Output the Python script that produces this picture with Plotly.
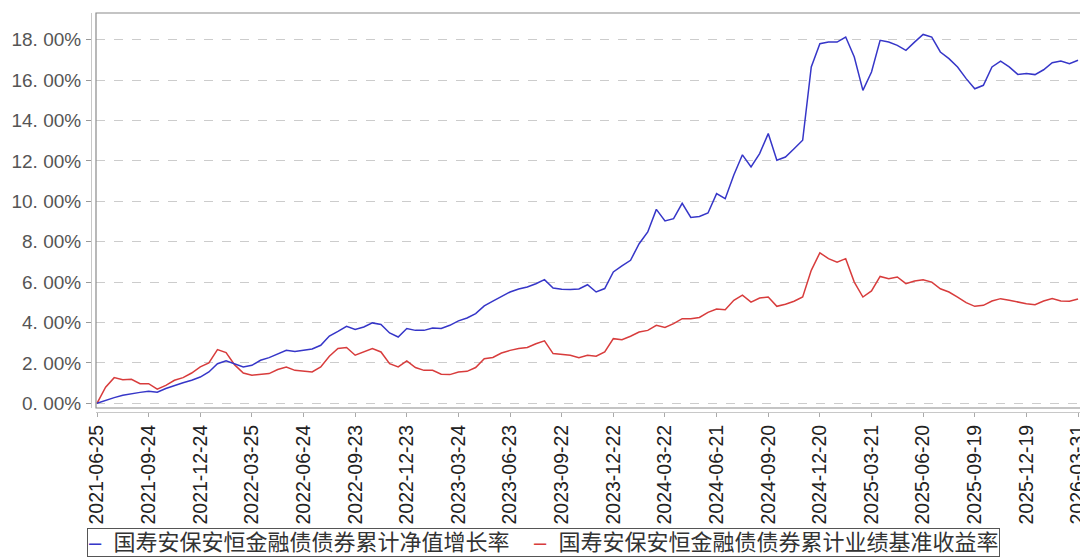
import plotly.graph_objects as go

# ---------------- data ----------------
dates = [
    "2021-06-25", "2021-07-09", "2021-07-23", "2021-08-13", "2021-08-27", "2021-09-10",
    "2021-09-24", "2021-10-08", "2021-10-22", "2021-11-12", "2021-11-26", "2021-12-10",
    "2021-12-24", "2022-01-07", "2022-01-21", "2022-02-11", "2022-02-25", "2022-03-11",
    "2022-03-25", "2022-04-08", "2022-04-22", "2022-05-13", "2022-05-27", "2022-06-10",
    "2022-06-24", "2022-07-08", "2022-07-22", "2022-08-12", "2022-08-26", "2022-09-09",
    "2022-09-23", "2022-10-10", "2022-10-21", "2022-11-11", "2022-11-25", "2022-12-09",
    "2022-12-23", "2023-01-06", "2023-01-20", "2023-02-10", "2023-02-24", "2023-03-10",
    "2023-03-24", "2023-04-07", "2023-04-21", "2023-05-12", "2023-05-26", "2023-06-09",
    "2023-06-23", "2023-07-07", "2023-07-21", "2023-08-11", "2023-08-25", "2023-09-08",
    "2023-09-22", "2023-10-09", "2023-10-20", "2023-11-10", "2023-11-24", "2023-12-08",
    "2023-12-22", "2024-01-05", "2024-01-19", "2024-02-08", "2024-02-23", "2024-03-08",
    "2024-03-22", "2024-04-08", "2024-04-19", "2024-05-10", "2024-05-24", "2024-06-07",
    "2024-06-21", "2024-07-05", "2024-07-19", "2024-08-09", "2024-08-23", "2024-09-06",
    "2024-09-20", "2024-10-08", "2024-10-18", "2024-11-08", "2024-11-22", "2024-12-06",
    "2024-12-20", "2025-01-03", "2025-01-17", "2025-02-07", "2025-02-21", "2025-03-07",
    "2025-03-21", "2025-04-07", "2025-04-18", "2025-05-09", "2025-05-23", "2025-06-06",
    "2025-06-20", "2025-07-04", "2025-07-18", "2025-08-08", "2025-08-22", "2025-09-05",
    "2025-09-19", "2025-10-09", "2025-10-17", "2025-11-07", "2025-11-21", "2025-12-05",
    "2025-12-19", "2026-01-06", "2026-01-21", "2026-02-05", "2026-03-03", "2026-03-17",
    "2026-03-31",
]

# 国寿安保安恒金融债债券累计净值增长率 (%)
nav_growth = [
    0.00, 0.15, 0.28, 0.40, 0.48, 0.54,
    0.60, 0.55, 0.73, 0.89, 1.02, 1.14,
    1.30, 1.55, 1.96, 2.10, 1.96, 1.80,
    1.88, 2.13, 2.26, 2.43, 2.62, 2.57,
    2.64, 2.69, 2.87, 3.33, 3.56, 3.81,
    3.65, 3.78, 3.98, 3.90, 3.48, 3.28,
    3.70, 3.61, 3.61, 3.73, 3.70, 3.86,
    4.08, 4.22, 4.44, 4.82, 5.06, 5.30,
    5.51, 5.66, 5.76, 5.92, 6.12, 5.71,
    5.64, 5.63, 5.66, 5.87, 5.51, 5.68,
    6.50, 6.80, 7.08, 7.90, 8.48, 9.60,
    9.03, 9.14, 9.90, 9.20, 9.25, 9.42,
    10.38, 10.13, 11.30, 12.30, 11.70, 12.36,
    13.35, 12.03, 12.19, 12.60, 13.02, 16.65,
    17.80, 17.88, 17.88, 18.13, 17.14, 15.49,
    16.40, 17.97, 17.88, 17.72, 17.47, 17.88,
    18.26, 18.13, 17.39, 17.06, 16.65, 16.07,
    15.57, 15.74, 16.65, 16.94, 16.65, 16.28,
    16.32, 16.27, 16.51, 16.86, 16.94, 16.81,
    16.98,
]

# 国寿安保安恒金融债债券累计业绩基准收益率 (%)
benchmark = [
    0.00, 0.80, 1.27, 1.17, 1.19, 0.97,
    0.97, 0.70, 0.89, 1.14, 1.27, 1.50,
    1.80, 2.00, 2.66, 2.51, 1.90, 1.50,
    1.39, 1.44, 1.47, 1.67, 1.80, 1.63,
    1.60, 1.55, 1.80, 2.33, 2.71, 2.76,
    2.38, 2.54, 2.71, 2.54, 1.96, 1.80,
    2.10, 1.77, 1.63, 1.63, 1.44, 1.42,
    1.55, 1.58, 1.77, 2.21, 2.27, 2.49,
    2.62, 2.71, 2.76, 2.95, 3.09, 2.46,
    2.41, 2.38, 2.26, 2.38, 2.33, 2.54,
    3.20, 3.15, 3.32, 3.53, 3.61, 3.86,
    3.75, 3.94, 4.19, 4.18, 4.25, 4.50,
    4.67, 4.63, 5.10, 5.35, 5.01, 5.21,
    5.26, 4.80, 4.90, 5.05, 5.26, 6.58,
    7.45, 7.16, 6.99, 7.16, 6.00, 5.26,
    5.56, 6.28, 6.17, 6.25, 5.92, 6.05,
    6.12, 6.00, 5.67, 5.51, 5.26, 4.98,
    4.80, 4.85, 5.06, 5.18, 5.10, 5.01,
    4.93, 4.88, 5.06, 5.18, 5.06, 5.05,
    5.16,
]

tick_dates = [
    "2021-06-25", "2021-09-24", "2021-12-24", "2022-03-25", "2022-06-24",
    "2022-09-23", "2022-12-23", "2023-03-24", "2023-06-23", "2023-09-22",
    "2023-12-22", "2024-03-22", "2024-06-21", "2024-09-20", "2024-12-20",
    "2025-03-21", "2025-06-20", "2025-09-19", "2025-12-19", "2026-03-31",
]

y_tick_values = [0, 2, 4, 6, 8, 10, 12, 14, 16, 18]
y_tick_labels = ["0. 00%", "2. 00%", "4. 00%", "6. 00%", "8. 00%",
                 "10. 00%", "12. 00%", "14. 00%", "16. 00%", "18. 00%"]

name_nav = "国寿安保安恒金融债债券累计净值增长率"
name_bm = "国寿安保安恒金融债债券累计业绩基准收益率"

color_nav = "#3636c8"
color_bm = "#d83c3c"

# ---------------- figure ----------------
fig = go.Figure()
fig.add_trace(go.Scatter(x=dates, y=benchmark, mode="lines", name=name_bm,
                         line=dict(color=color_bm, width=1.5)))
fig.add_trace(go.Scatter(x=dates, y=nav_growth, mode="lines", name=name_nav,
                         line=dict(color=color_nav, width=1.5)))

# the page body adds an 8px margin, so the figure is 8px smaller and shifted
OFF = 8
W, H = 1088 - OFF, 557 - OFF
ml, mr, mt, mb = 91 - OFF, 6, 13 - OFF, 145
pw, ph = W - ml - mr, H - mt - mb

tick_font = dict(family="Liberation Sans, Arial, sans-serif", size=19.5, color="#222222")

fig.update_layout(
    template="none",
    width=W, height=H,
    margin=dict(l=ml, r=mr, t=mt, b=mb, pad=0, autoexpand=False),
    paper_bgcolor="white", plot_bgcolor="white",
    showlegend=False,
    xaxis=dict(
        type="category",
        automargin=False,
        domain=[5 / pw, 1],
        anchor="free", position=0,
        range=[-0.116, len(dates) - 1 + 0.46],
        tickmode="array", tickvals=tick_dates, ticktext=tick_dates,
        tickangle=-90, tickfont=tick_font,
        showgrid=False, zeroline=False,
        showline=True, linecolor="#c8c8c8", linewidth=1,
        ticks="outside", ticklen=4, tickcolor="#aaaaaa",
    ),
    yaxis=dict(
        automargin=False,
        domain=[4 / ph, 1],
        anchor="free", position=0,
        range=[-0.233, 19.32],
        tickmode="array", tickvals=y_tick_values, ticktext=y_tick_labels,
        tickfont=dict(family="Liberation Sans, Arial, sans-serif", size=19, color="#555555"),
        showgrid=True, gridcolor="#cccccc", gridwidth=1, griddash="dash",
        zeroline=False,
        showline=True, linecolor="#c8c8c8", linewidth=1,
        ticks="outside", ticklen=5, tickcolor="#999999",
        ticklabelstandoff=1,
    ),
)

# plot frame
fig.add_shape(type="rect", xref="x domain", yref="y domain", x0=0, x1=1, y0=0, y1=1,
              line=dict(color="#8a8a8a", width=1.2), fillcolor="rgba(0,0,0,0)", layer="above")

# legend box at the bottom
nb = "\u00a0"
legend_text = (
    f"<span style='color:{color_nav}'>\u2013</span>{nb*2}{name_nav}{nb*4}"
    f"<span style='color:{color_bm}'>\u2013</span>{nb*2}{name_bm}"
)
fig.add_annotation(
    text=legend_text, xref="paper", yref="paper",
    x=(543 - OFF - ml) / pw, y=(H - mb - (528 - OFF)) / ph,
    xanchor="center", yanchor="top", showarrow=False,
    font=dict(family="Liberation Sans, Noto Sans CJK SC, sans-serif", size=22, color="#333333"),
    bordercolor="#555555", borderwidth=1, borderpad=1, bgcolor="white",
)

fig.write_html("out.html")
